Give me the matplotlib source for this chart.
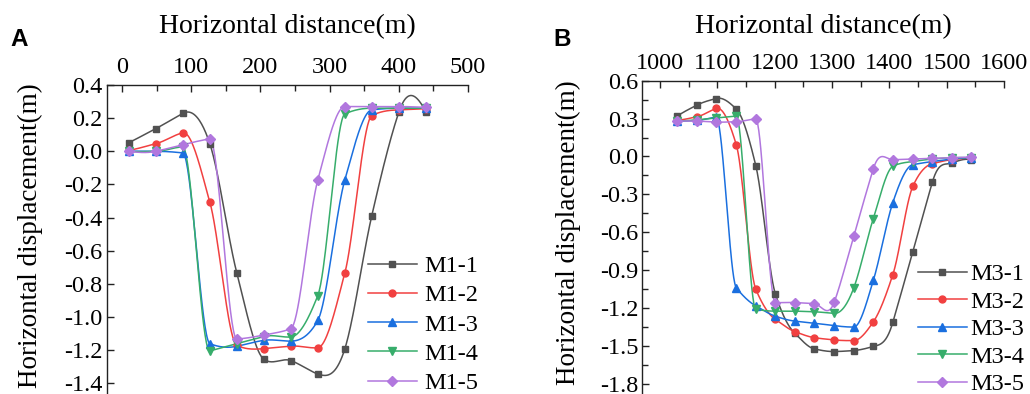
import numpy as np
import matplotlib
matplotlib.use("Agg")
import matplotlib.pyplot as plt
from matplotlib.ticker import MultipleLocator, FuncFormatter

plt.rcParams['font.family'] = ['Liberation Serif', 'DejaVu Serif']

# ---- panel A data ----
xa = [10, 49, 88, 127, 166, 205, 244, 283, 322, 361, 400, 439]
m1_1 = [0.052, 0.137, 0.229, 0.046, -0.734, -1.254, -1.262, -1.343, -1.192, -0.388, 0.235, 0.24]
m1_2 = [0.006, 0.046, 0.112, -0.306, -1.17, -1.19, -1.175, -1.185, -0.735, 0.215, 0.25, 0.255]
m1_3 = [0.0, 0.0, -0.01, -1.16, -1.176, -1.14, -1.145, -1.02, -0.173, 0.25, 0.26, 0.26]
m1_4 = [0.0, 0.0, 0.026, -1.204, -1.16, -1.117, -1.12, -0.87, 0.225, 0.26, 0.26, 0.26]
m1_5 = [0.0, 0.0, 0.04, 0.076, -1.132, -1.108, -1.07, -0.173, 0.27, 0.27, 0.27, 0.265]

# ---- panel B data ----
xb = [1030, 1064, 1098, 1133, 1167, 1201, 1235, 1269, 1304, 1338, 1372, 1406, 1441, 1475, 1509, 1543]
m3_1 = [0.32, 0.406, 0.459, 0.375, -0.073, -1.086, -1.40, -1.524, -1.545, -1.537, -1.505, -1.314,
        -0.754, -0.204, -0.052, -0.026]
m3_2 = [0.288, 0.314, 0.38, 0.092, -1.052, -1.29, -1.387, -1.435, -1.453, -1.458, -1.31, -0.937,
        -0.236, -0.057, -0.025, -0.01]
m3_3 = [0.28, 0.285, 0.31, -1.04, -1.183, -1.265, -1.304, -1.32, -1.34, -1.351, -0.982, -0.366,
        -0.065, -0.04, -0.02, -0.01]
m3_4 = [0.28, 0.29, 0.305, 0.32, -1.21, -1.225, -1.225, -1.23, -1.243, -1.04, -0.492, -0.078,
        -0.04, -0.02, -0.01, -0.01]
m3_5 = [0.28, 0.28, 0.272, 0.275, 0.296, -1.157, -1.157, -1.165, -1.152, -0.628, -0.099, -0.026,
        -0.02, -0.015, -0.01, -0.005]

names_a = ['M1-1', 'M1-2', 'M1-3', 'M1-4', 'M1-5']
names_b = ['M3-1', 'M3-2', 'M3-3', 'M3-4', 'M3-5']
colors = ['#515151', '#F14040', '#1A6FDF', '#37AD6B', '#B177DE']
markers = ['s', 'o', '^', 'v', 'D']
msizes = [5, 5, 6, 6, 5]


def akima(x, y, n=40):
    # smooth connecting line, like Origin's spline connection
    x = np.asarray(x, float)
    y = np.asarray(y, float)
    N = len(x)
    m = np.diff(y) / np.diff(x)
    mm = np.empty(N + 3)
    mm[2:-2] = m
    mm[1] = 2 * mm[2] - mm[3]
    mm[0] = 2 * mm[1] - mm[2]
    mm[-2] = 2 * mm[-3] - mm[-4]
    mm[-1] = 2 * mm[-2] - mm[-3]
    dm = np.abs(np.diff(mm))
    f1 = dm[2:]
    f2 = dm[:-2]
    s = f1 + f2
    t = np.where(s > 1e-12, (f1 * mm[1:-2] + f2 * mm[2:-1]) / np.where(s > 1e-12, s, 1),
                 0.5 * (mm[1:-2] + mm[2:-1]))
    xs, ys = [], []
    u = np.linspace(0, 1, n)
    for i in range(N - 1):
        h = x[i + 1] - x[i]
        h00 = 2 * u**3 - 3 * u**2 + 1
        h10 = u**3 - 2 * u**2 + u
        h01 = -2 * u**3 + 3 * u**2
        h11 = u**3 - u**2
        xs.append(x[i] + u * h)
        ys.append(h00 * y[i] + h10 * h * t[i] + h01 * y[i + 1] + h11 * h * t[i + 1])
    return np.concatenate(xs), np.concatenate(ys)


fig = plt.figure(figsize=(10.30, 3.94), dpi=100)

W, H = 1030.0, 394.0


def make_axes(left, right, top, bottom):
    return fig.add_axes([left / W, 1 - bottom / H, (right - left) / W, (bottom - top) / H])


axA = make_axes(106.7, 468, 85, 416.6)
axB = make_axes(642.3, 1004, 80.7, 409)


def draw(ax, x, series, names, ylim, xlim, xmaj, xmin, ymaj, ymin, lpad):
    for ys, nm, c, mk, ms in zip(series, names, colors, markers, msizes):
        sx, sy = akima(x, ys)
        ax.plot(sx, sy, color=c, lw=1.1, zorder=2)
        ax.plot(x, ys, ls='none', marker=mk, ms=ms, color=c, zorder=3)
        ax.plot([], [], color=c, lw=1.1, marker=mk, ms=ms, label=nm)
    ax.set_xlim(*xlim)
    ax.set_ylim(*ylim)
    ax.xaxis.tick_top()
    ax.xaxis.set_label_position('top')
    ax.xaxis.set_major_locator(MultipleLocator(xmaj))
    ax.xaxis.set_minor_locator(MultipleLocator(xmin))
    ax.yaxis.set_major_locator(MultipleLocator(ymaj))
    if ymin:
        ax.yaxis.set_minor_locator(MultipleLocator(ymin))
    ax.yaxis.set_major_formatter(FuncFormatter(lambda v, p: f'{v:.1f}'.replace('-0.0', '0.0')))
    ax.spines['right'].set_visible(False)
    ax.spines['bottom'].set_visible(False)
    for sp in ['top', 'left']:
        ax.spines[sp].set_linewidth(1.0)
        ax.spines[sp].set_color('#222222')
    ax.tick_params(which='major', direction='in', length=5, width=1, labelsize=17.5,
                   colors='#222222', labelcolor='black')
    ax.tick_params(axis='x', which='major', pad=5)
    ax.tick_params(axis='y', which='major', pad=3)
    ax.tick_params(which='minor', direction='in', length=4, width=1, colors='#222222')
    ax.tick_params(axis='x', which='both', bottom=False, top=True)
    ax.set_xlabel('Horizontal distance(m)', fontsize=20, labelpad=lpad)
    ax.patch.set_alpha(0)


draw(axA, xa, [m1_1, m1_2, m1_3, m1_4, m1_5], names_a, (-1.6, 0.4), (-22, 500), 100, 50, 0.2, None, 17)
draw(axB, xb, [m3_1, m3_2, m3_3, m3_4, m3_5], names_b, (-2.0, 0.6), (969, 1600), 100, 50, 0.3, 0.15, 14)

# y labels (cut off at the bottom, as in the original)
fig.text(18 / W, 1 - 83 / H, 'Horizontal displacement(m)', rotation=90, ha='left', va='top', fontsize=19.5)
fig.text(556 / W, 1 - 80 / H, 'Horizontal displacement(m)', rotation=90, ha='left', va='top', fontsize=19.5)

# panel letters
fig.text(10 / W, 1 - 46 / H, 'A', fontsize=17.5, fontweight='bold', family=['Liberation Sans', 'DejaVu Sans'])
fig.text(553 / W, 1 - 46 / H, 'B', fontsize=17.5, fontweight='bold', family=['Liberation Sans', 'DejaVu Sans'])

axA.legend(loc='upper left', bbox_to_anchor=(368 / W, 1 - 255 / H), bbox_transform=fig.transFigure,
           frameon=False, fontsize=17.5, handlelength=2.0, handletextpad=0.3,
           labelspacing=0.30, borderpad=0, borderaxespad=0)
axB.legend(loc='upper left', bbox_to_anchor=(918 / W, 1 - 263 / H), bbox_transform=fig.transFigure,
           frameon=False, fontsize=17.5, handlelength=2.0, handletextpad=0.15,
           labelspacing=0.23, borderpad=0, borderaxespad=0)

fig.savefig('out.png', dpi=100)
